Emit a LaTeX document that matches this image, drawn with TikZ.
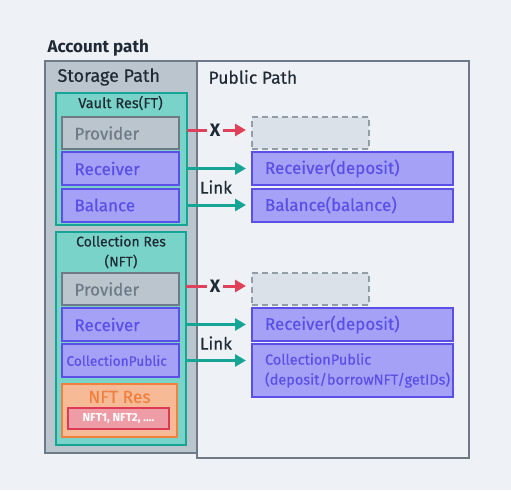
\documentclass[tikz,border=0pt]{standalone}
\usepackage{fontspec}
\setmainfont{Fira Sans}[UprightFeatures={FakeBold=0.4}]
\usetikzlibrary{arrows.meta}

\definecolor{bgcol}{HTML}{EEF2F6}
\definecolor{inkcol}{HTML}{1F2A35}
\definecolor{slatefill}{HTML}{BAC5CE}
\definecolor{slateline}{HTML}{6E7B86}
\definecolor{tealfill}{HTML}{7AD3C8}
\definecolor{tealline}{HTML}{16A594}
\definecolor{purpfill}{HTML}{A5A1F6}
\definecolor{purpline}{HTML}{5A4FE6}
\definecolor{ghostfill}{HTML}{DAE1E9}
\definecolor{ghostline}{HTML}{919DA7}
\definecolor{denyred}{HTML}{DE4159}
\definecolor{nftfill}{HTML}{F7BA97}
\definecolor{nftline}{HTML}{F0803E}
\definecolor{itemfill}{HTML}{EE9DA6}
\definecolor{itemline}{HTML}{DD3A54}

\begin{document}
\begin{tikzpicture}[x=1pt, y=-1pt, font=\fontsize{17}{20}\selectfont, text=inkcol]
\tikzset{
  framebox/.style={draw, line width=2pt, inner sep=0pt, outer sep=0pt},
  storebox/.style={framebox, fill=slatefill, draw=slateline},
  pubbox/.style={framebox, fill=bgcol, draw=slateline},
  resbox/.style={framebox, fill=tealfill, draw=tealline},
  provbox/.style={framebox, fill=slatefill, draw=slateline, text=slateline,
    minimum height=32pt, text width=92pt, inner xsep=12.5pt, align=left},
  capbox/.style={framebox, fill=purpfill, draw=purpline, text=purpline,
    minimum height=33pt, text width=92pt, inner xsep=12.5pt, align=left},
  wcapbox/.style={capbox, text width=175pt, inner xsep=13pt},
  ghostbox/.style={framebox, fill=ghostfill, draw=ghostline, dashed,
    dash pattern=on 6pt off 4pt, minimum width=117pt, minimum height=32pt},
  nftres/.style={framebox, fill=nftfill, draw=nftline},
  nftitem/.style={framebox, fill=itemfill, draw=itemline, text=white,
    font=\fontsize{11.5}{13}\selectfont\bfseries},
  linkarrow/.style={draw=tealline, line width=3pt,
    -{Triangle[length=11pt,width=12pt]}, shorten >=6pt},
  denyarrow/.style={draw=denyred, line width=3pt,
    -{Triangle[length=11pt,width=12pt]}, shorten >=6pt},
  denyline/.style={draw=denyred, line width=3pt}
}
\fill[bgcol] (0,0) rectangle (511,490);
\useasboundingbox (0,0) rectangle (511,490);

% account path frame
\node[font=\fontsize{17}{20}\selectfont\bfseries, anchor=west] (acct) at (44,48) {Account path};
\node[pubbox, minimum width=272pt, minimum height=397pt] (pub) at (333,259.5) {};
\node[storebox, minimum width=152pt, minimum height=392pt] (store) at (121,257) {};
\node[anchor=west, font=\fontsize{18}{21}\selectfont] (storelbl) at (54,77) {Storage Path};
\node[anchor=west, font=\fontsize{17.5}{20}\selectfont] (publbl) at (205,77) {Public Path};

% vault resource
\node[resbox, minimum width=131pt, minimum height=132pt] (vault) at (121.5,159) {};
\node[font=\fontsize{14.5}{17}\selectfont] (vaultlbl) at (120.5,103) {Vault Res(FT)};
\node[provbox] (prov1) at (120.5,133) {Provider};
\node[capbox] (recv1) at (120.5,168.5) {Receiver};
\node[capbox] (bal1) at (120.5,205) {Balance};

% collection resource
\node[resbox, minimum width=130pt, minimum height=213pt] (coll) at (121,338.5) {};
\node[font=\fontsize{14}{20}\selectfont, align=center] (colllbl) at (121,252) {Collection Res\\(NFT)};
\node[provbox] (prov2) at (120.5,289) {Provider};
\node[capbox] (recv2) at (120.5,324.5) {Receiver};
\node[capbox, text width=108pt, inner xsep=4.5pt, font=\fontsize{13.7}{16}\selectfont] (cpub1) at (120.5,360.5) {CollectionPublic};
\node[nftres, minimum width=115pt, minimum height=53pt] (nftres) at (119.5,410.5) {};
\node[text=nftline, font=\fontsize{17.5}{20}\selectfont] (nftlbl) at (119.5,397) {NFT Res};
\node[nftitem, minimum width=101pt, minimum height=21pt] (nfts) at (118.5,418.5) {NFT1, NFT2, ....};

% public capabilities
\node[ghostbox] (ghost1) at (310.5,133) {};
\node[wcapbox] (precv1) at (352.5,168.5) {Receiver(deposit)};
\node[wcapbox] (pbal1) at (352.5,205) {Balance(balance)};
\node[ghostbox] (ghost2) at (310.5,289) {};
\node[wcapbox] (precv2) at (352.5,324.5) {Receiver(deposit)};
\node[wcapbox, minimum height=53pt, font=\fontsize{14.5}{20}\selectfont] (pcpub) at (352.5,370.5) {CollectionPublic\\(deposit/borrowNFT/getIDs)};

% links
\node[font=\fontsize{18}{20}\selectfont\bfseries, inner sep=3pt] (x1) at (215,130) {X};
\draw[denyline] (vault.east |- x1.west) -- (x1.west);
\draw[denyarrow] (x1.east) -- (ghost1.west |- x1.east);
\draw[linkarrow] (recv1.east -| vault.east) -- (precv1.west);
\draw[linkarrow] (bal1.east -| vault.east) -- (pbal1.west);
\node (link1) at (216,187) {Link};

\node[font=\fontsize{18}{20}\selectfont\bfseries, inner sep=3pt] (x2) at (215,286) {X};
\draw[denyline] (coll.east |- x2.west) -- (x2.west);
\draw[denyarrow] (x2.east) -- (ghost2.west |- x2.east);
\draw[linkarrow] (recv2.east -| coll.east) -- (precv2.west);
\draw[linkarrow] (cpub1.east -| coll.east) -- (pcpub.west |- cpub1.east);
\node (link2) at (216,343) {Link};
\end{tikzpicture}
\end{document}
